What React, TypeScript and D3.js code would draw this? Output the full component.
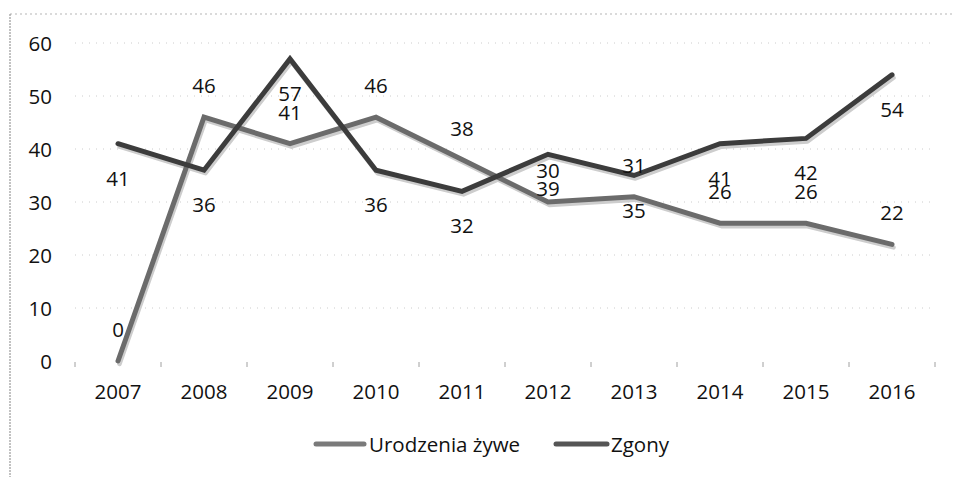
import React from "react";
import * as d3 from "d3";

const years = ["2007", "2008", "2009", "2010", "2011", "2012", "2013", "2014", "2015", "2016"];
const urodzenia = [0, 46, 41, 46, 38, 30, 31, 26, 26, 22];
const zgony = [41, 36, 57, 36, 32, 39, 35, 41, 42, 54];
const yTicks = [0, 10, 20, 30, 40, 50, 60];
const seriesNames = ["Urodzenia żywe", "Zgony"];

const W = 954;
const H = 477;
const FONT = "'Open Sans', 'Noto Sans', sans-serif";
const FS = 20.5;

export default function App() {
  const x = d3.scaleBand<string>().domain(years).range([75, 935]);
  const y = d3.scaleLinear().domain([0, 60]).range([361, 43]);
  const cx = (yr: string) => (x(yr) as number) + x.bandwidth() / 2;

  const line = d3
    .line<number>()
    .x((_, i) => cx(years[i]))
    .y((v) => y(v))
    .curve(d3.curveLinear);

  const series = [
    { name: seriesNames[0], values: urodzenia, color: "#6b6b6b", labelDy: -32 },
    { name: seriesNames[1], values: zgony, color: "#3c3c3c", labelDy: 34 },
  ];

  const boundaries = years.map((yr) => x(yr) as number).concat([935]);

  return (
    <svg width={W} height={H} style={{ position: "absolute", left: 0, top: 0, background: "#fff" }}>
      {/* chart border */}
      <line x1={10} y1={14} x2={W} y2={14} stroke="#b5b5b5" strokeWidth={1} strokeDasharray="2,3" />
      <line x1={10} y1={14} x2={10} y2={H} stroke="#9a9a9a" strokeWidth={1.2} strokeDasharray="2,1" />

      {/* gridlines */}
      {yTicks.filter((t) => t > 0).map((t) => (
        <line key={t} x1={75} x2={935} y1={y(t)} y2={y(t)} stroke="#cccccc" strokeWidth={1} strokeDasharray="1,6" />
      ))}

      {/* y labels */}
      {yTicks.map((t) => (
        <text key={t} x={52} y={y(t)} textAnchor="end" dominantBaseline="central" fontFamily={FONT} fontSize={FS} fill="#111">
          {t}
        </text>
      ))}

      {/* x tick marks */}
      {boundaries.map((b, i) => (
        <line key={i} x1={b} x2={b} y1={362} y2={367} stroke="#a0a0a0" strokeWidth={1} />
      ))}

      {/* x labels */}
      {years.map((yr) => (
        <text key={yr} x={cx(yr)} y={391} textAnchor="middle" dominantBaseline="central" fontFamily={FONT} fontSize={FS} fill="#111">
          {yr}
        </text>
      ))}

      {/* shadows */}
      {series.map((s) => (
        <path key={s.name + "sh"} d={line(s.values) || ""} fill="none" stroke="#cdcdcd" strokeWidth={4.5} strokeLinejoin="round" strokeLinecap="round" transform="translate(1.5,3)" />
      ))}
      {/* lines */}
      {series.map((s) => (
        <path key={s.name} d={line(s.values) || ""} fill="none" stroke={s.color} strokeWidth={5} strokeLinejoin="miter" strokeLinecap="round" />
      ))}

      {/* data labels */}
      {series.map((s) =>
        s.values.map((v, i) => (
          <text key={s.name + i} x={cx(years[i])} y={y(v) + s.labelDy} textAnchor="middle" dominantBaseline="central" fontFamily={FONT} fontSize={FS} fill="#111">
            {v}
          </text>
        ))
      )}

      {/* legend */}
      <g>
        <line x1={316} x2={364} y1={444} y2={444} stroke="#7a7a7a" strokeWidth={5} strokeLinecap="round" />
        <text x={369} y={444} dominantBaseline="central" fontFamily={FONT} fontSize={FS} fill="#111">
          {seriesNames[0]}
        </text>
        <line x1={556} x2={607} y1={444} y2={444} stroke="#555" strokeWidth={5} strokeLinecap="round" />
        <text x={611} y={444} dominantBaseline="central" fontFamily={FONT} fontSize={FS} fill="#111">
          {seriesNames[1]}
        </text>
      </g>
    </svg>
  );
}
